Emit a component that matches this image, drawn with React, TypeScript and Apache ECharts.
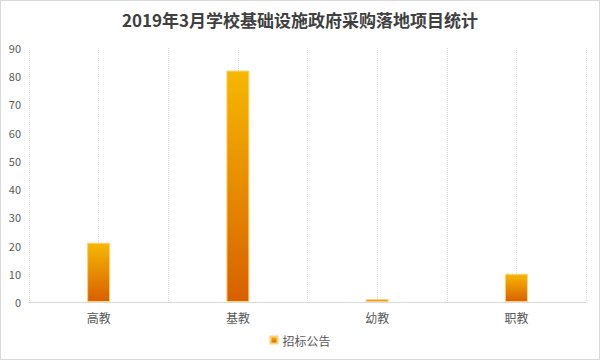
import React, { useEffect, useRef } from "react";
import * as echarts from "echarts";

const titleText = "2019年3月学校基础设施政府采购落地项目统计";
const categories = ["高教", "基教", "幼教", "职教"];
const seriesName = "招标公告";
const values = [21, 82, 1, 10];
const halfSlots = ["a", "b", "c", "d", "e", "f", "g", "h"];

export default function App() {
  const ref = useRef<HTMLDivElement>(null);
  useEffect(() => {
    document.body.style.margin = "0";
    const chart = echarts.init(ref.current!, null, { renderer: "svg" });
    const font = "'Noto Sans CJK SC', 'Noto Sans', sans-serif";
    chart.setOption({
      animation: false,
      textStyle: { fontFamily: font },
      title: {
        text: titleText,
        left: "center",
        top: 5,
        textStyle: { fontSize: 17, fontWeight: "bold", color: "#404040", fontFamily: font },
      },
      legend: {
        bottom: 8,
        left: "center",
        icon: "rect",
        itemWidth: 7,
        itemHeight: 7,
        itemGap: 4,
        textStyle: { fontSize: 12, color: "#595959" },
        data: [seriesName],
      },
      grid: { left: 28, right: 13, top: 47, bottom: 57 },
      xAxis: [
        {
          type: "category",
          data: categories,
          axisLine: { lineStyle: { color: "#d9d9d9" } },
          axisTick: { show: false },
          axisLabel: { color: "#595959", fontSize: 12, margin: 9 },
          splitLine: { show: false },
        },
        {
          type: "category",
          data: halfSlots,
          position: "top",
          axisLine: { show: false },
          axisTick: { show: false },
          axisLabel: { show: false },
          splitLine: { show: true, lineStyle: { color: "#dcdcdc", type: "dotted", width: 1 } },
        },
      ],
      yAxis: {
        type: "value",
        min: 0,
        max: 90,
        interval: 10,
        axisLine: { show: false },
        axisTick: { show: false },
        axisLabel: { color: "#595959", fontSize: 11, margin: 8 },
        splitLine: { show: false },
      },
      series: [
        {
          name: seriesName,
          type: "bar",
          data: values,
          barWidth: 23,
          itemStyle: {
            color: new echarts.graphic.LinearGradient(0, 0, 0, 1, [
              { offset: 0, color: "#F6B800" },
              { offset: 1, color: "#D86000" },
            ]),
            borderColor: "#FBD27A",
            borderWidth: 1,
          },
        },
      ],
    });
    return () => chart.dispose();
  }, []);
  return (
    <div
      ref={ref}
      style={{ width: 600, height: 360, border: "1px solid #d9d9d9", boxSizing: "border-box" }}
    />
  );
}
